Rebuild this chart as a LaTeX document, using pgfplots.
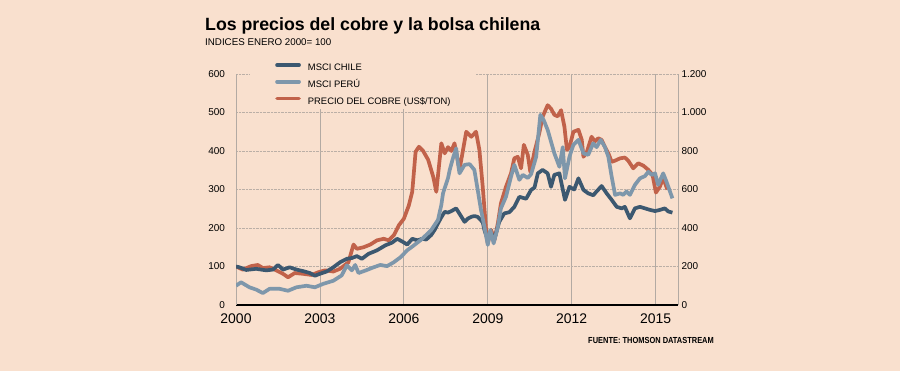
\documentclass[border=0pt]{standalone}
\usepackage{fontspec}
\setmainfont{Liberation Sans}
\newfontfamily\narrowfont[FakeStretch=0.85]{Liberation Sans}
\usepackage{pgfplots}
\pgfplotsset{compat=1.18}
\definecolor{bg}{HTML}{F9E0CE}
\definecolor{chile}{HTML}{3C5870}
\definecolor{peru}{HTML}{7E97AB}
\definecolor{cobre}{HTML}{C1624A}
\definecolor{gridgray}{HTML}{B3AAA3}
\definecolor{dotgray}{HTML}{BBAFA6}
\begin{document}
\begin{tikzpicture}
\fill[bg] (0bp,0bp) rectangle (900bp,371bp);
\node[anchor=base west, inner sep=0pt, font=\fontsize{17.8}{19}\selectfont\bfseries] at (205bp,340.3bp) {Los precios del cobre y la bolsa chilena};
\node[anchor=base west, inner sep=0pt, font=\fontsize{9.8}{11}\selectfont] at (205bp,325.3bp) {INDICES ENERO 2000= 100};
\node[anchor=base east, inner sep=0pt, font=\narrowfont\fontsize{8.8}{10}\selectfont\bfseries] at (714bp,28bp) {FUENTE: THOMSON DATASTREAM};
\begin{axis}[
  at={(236bp,66bp)}, anchor=south west,
  scale only axis, width=442bp, height=231bp,
  xmin=2000, xmax=2015.8, ymin=0, ymax=600,
  axis x line*=bottom, axis y line*=left,
  x axis line style={black, line width=1.1bp, -},
  y axis line style={draw=gridgray, line width=0.8bp, -},
  xtick={2000,2003,2006,2009,2012,2015}, ytick={0,100,...,600},
  major tick length=0pt,
  xmajorgrids, ymajorgrids,
  x grid style={gridgray, line width=0.8bp},
  y grid style={dotgray, densely dotted, line width=0.6bp},
  /pgf/number format/assume math mode=true,
  xticklabel style={font=\fontsize{14}{14}\selectfont, /pgf/number format/1000 sep={}, yshift=-5bp},
  yticklabel style={font=\fontsize{10}{10}\selectfont, xshift=-7.5bp},
  legend style={at={(0.0317,1.0606)}, anchor=north west, draw=none, fill=bg,
    inner xsep=25bp, inner ysep=3bp, row sep=7bp,
    font=\fontsize{9.45}{11}\selectfont,
    nodes={inner sep=0pt, text height=7bp, text depth=2bp}},
  legend cell align=left,
  legend image code/.code={\draw[#1, line cap=round] (0bp,3.4bp) -- (22bp,3.4bp); \path (29bp,3.4bp);},
  every axis plot/.append style={line width=3.7bp, line join=round},
]
\addlegendimage{chile, line width=3.7bp}
\addlegendentry{MSCI CHILE}
\addlegendimage{peru, line width=3.7bp}
\addlegendentry{MSCI PERÚ}
\addlegendimage{cobre, line width=3.7bp}
\addlegendentry{PRECIO DEL COBRE (US\$/TON)}
% Copper price (in left-axis index units; right axis = 2x)
\addplot[cobre, forget plot] coordinates {
(2000.0,100) (2000.24,92) (2000.54,101) (2000.78,104) (2000.96,96) (2001.2,98)
(2001.44,90) (2001.68,81) (2001.86,72) (2002.1,83) (2002.4,81) (2002.7,78)
(2002.94,85) (2003.18,90) (2003.48,87) (2003.72,94) (2004.02,111) (2004.2,157)
(2004.32,146) (2004.56,150) (2004.8,157) (2005.04,168) (2005.28,172) (2005.46,168)
(2005.64,181) (2005.82,207) (2006.0,224) (2006.18,259) (2006.3,294) (2006.42,398)
(2006.54,411) (2006.69,400) (2006.87,377)
(2007.05,333) (2007.16,294) (2007.34,420) (2007.46,394) (2007.58,410) (2007.7,400)
(2007.81,420) (2007.99,351) (2008.23,450) (2008.41,437) (2008.58,450) (2008.7,403)
(2008.82,307) (2008.94,195) (2009.0,160) (2009.12,195) (2009.24,169) (2009.36,212)
(2009.47,264) (2009.65,307) (2009.83,342) (2009.95,381) (2010.07,385) (2010.19,355)
(2010.29,416) (2010.43,390) (2010.52,346) (2010.67,398) (2010.84,446) (2010.96,489)
(2011.14,519) (2011.26,510) (2011.38,494) (2011.5,490) (2011.62,506) (2011.74,463)
(2011.83,403) (2011.92,410) (2012.06,450) (2012.24,455) (2012.36,429) (2012.42,385)
(2012.53,395) (2012.71,437) (2012.83,425) (2012.95,433) (2013.07,429) (2013.19,410)
(2013.31,394) (2013.43,372) (2013.55,375) (2013.73,381) (2013.9,383) (2014.02,375)
(2014.2,355) (2014.38,368) (2014.56,362) (2014.74,351) (2014.89,338) (2015.01,292)
(2015.15,307) (2015.27,330) (2015.42,300)
};
\addplot[chile, forget plot] coordinates {
(2000.0,100) (2000.12,98) (2000.36,91) (2000.72,94) (2001.08,90) (2001.32,92)
(2001.5,104) (2001.68,92) (2001.92,98) (2002.16,92) (2002.4,88) (2002.64,83)
(2002.82,76) (2003.0,81) (2003.24,87) (2003.48,98) (2003.72,111) (2003.96,120)
(2004.14,122) (2004.32,127) (2004.5,120) (2004.74,133) (2005.04,142) (2005.34,155)
(2005.58,162) (2005.76,172) (2005.94,165) (2006.12,157) (2006.3,172) (2006.48,168)
(2006.66,172) (2006.8,170)
(2006.98,182) (2007.1,195) (2007.22,212) (2007.34,228) (2007.46,242) (2007.58,240)
(2007.7,244) (2007.87,251) (2007.99,237) (2008.17,216) (2008.3,225) (2008.41,229)
(2008.52,231) (2008.64,229) (2008.82,215) (2008.88,195) (2009.0,168) (2009.12,186)
(2009.24,172) (2009.41,216) (2009.59,238) (2009.77,241) (2009.95,255) (2010.13,281)
(2010.37,276) (2010.55,299) (2010.67,305) (2010.79,342) (2010.96,351) (2011.14,342)
(2011.26,307) (2011.38,338) (2011.56,342) (2011.76,273) (2011.92,307) (2012.09,300)
(2012.24,329) (2012.42,299) (2012.59,290) (2012.77,285) (2012.89,295) (2013.07,309)
(2013.25,290) (2013.43,273) (2013.61,255) (2013.79,251) (2013.9,255) (2014.08,225)
(2014.26,251) (2014.44,255) (2014.62,251) (2014.8,247) (2014.98,244) (2015.15,247)
(2015.33,251) (2015.45,243) (2015.6,240)
};
\addplot[peru, forget plot] coordinates {
(2000.0,50) (2000.18,59) (2000.48,46) (2000.72,40) (2000.96,31) (2001.2,42)
(2001.56,42) (2001.86,37) (2002.16,46) (2002.52,50) (2002.82,46) (2003.12,55)
(2003.48,63) (2003.78,77) (2003.96,103) (2004.14,90) (2004.26,104) (2004.38,83)
(2004.68,91) (2004.92,98) (2005.16,104) (2005.4,101) (2005.64,111) (2005.88,124)
(2006.12,142) (2006.36,155) (2006.66,172) (2006.84,185) (2006.98,195) (2007.22,221) (2007.34,260)
(2007.4,290) (2007.58,330) (2007.64,351) (2007.75,380) (2007.87,407) (2007.93,370)
(2007.99,342) (2008.17,364) (2008.35,366) (2008.52,351) (2008.64,299) (2008.75,250)
(2008.88,203) (2009.0,156) (2009.09,195) (2009.21,160) (2009.36,203) (2009.47,251)
(2009.65,281) (2009.83,333) (2009.95,364) (2010.13,325) (2010.25,338) (2010.43,330)
(2010.55,340) (2010.73,385) (2010.88,494) (2011.0,480) (2011.14,455) (2011.38,394)
(2011.56,359) (2011.68,410) (2011.76,329) (2011.92,385) (2012.06,416) (2012.24,429)
(2012.42,394) (2012.59,390) (2012.77,420) (2012.89,410) (2013.04,429) (2013.19,410)
(2013.31,385) (2013.43,333) (2013.55,286) (2013.73,290) (2013.84,286) (2013.96,295)
(2014.08,286) (2014.26,312) (2014.44,329) (2014.62,335) (2014.74,346) (2014.86,338)
(2014.98,342) (2015.09,312) (2015.27,342) (2015.39,320) (2015.6,277)
};
\end{axis}
\begin{axis}[
  at={(236bp,66bp)}, anchor=south west,
  scale only axis, width=442bp, height=231bp,
  xmin=2000, xmax=2015.8, ymin=0, ymax=1200,
  axis y line*=right, axis x line=none,
  y axis line style={draw=gridgray, line width=0.8bp, -},
  ytick={0,200,...,1200}, major tick length=0pt,
  /pgf/number format/assume math mode=true,
  yticklabel style={font=\fontsize{10}{10}\selectfont, /pgf/number format/1000 sep={.}},
]
\addplot[draw=none] coordinates {(2000,0)};
\end{axis}
\end{tikzpicture}
\end{document}
